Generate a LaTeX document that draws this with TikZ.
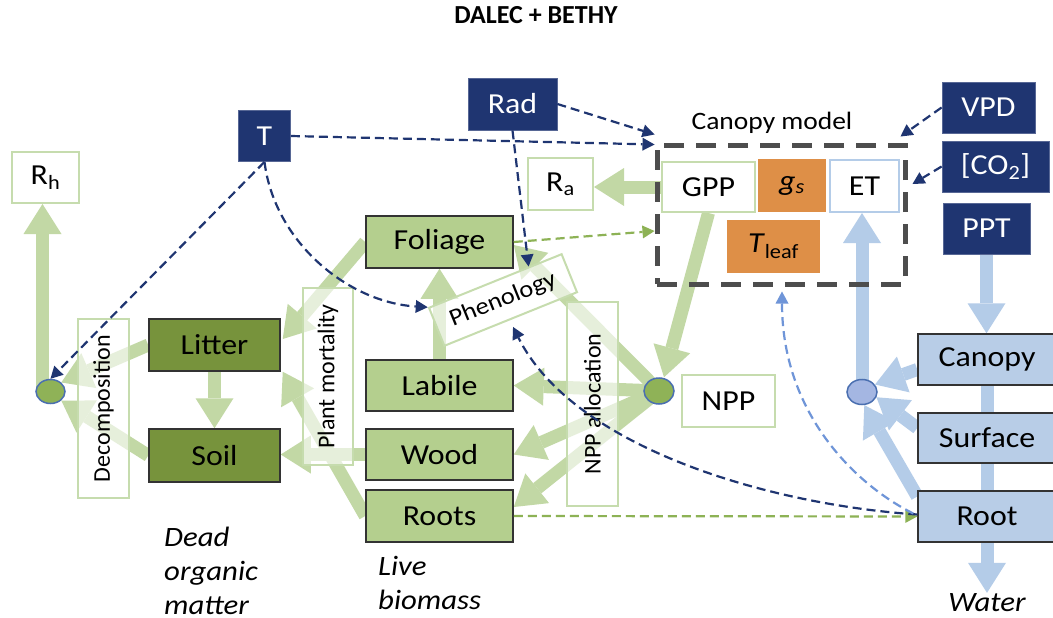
\documentclass[tikz,border=0pt]{standalone}
\usepackage{fontspec}
\setmainfont{Carlito}[FakeStretch=1.1]
\newfontfamily\plainfont{Carlito}
\usetikzlibrary{arrows.meta,calc,shapes.geometric}
\definecolor{dB}{HTML}{1F3571}
\definecolor{gLive}{HTML}{B4CF8E}
\definecolor{gDead}{HTML}{77933C}
\definecolor{gArr}{HTML}{C2D8A5}
\definecolor{gLine}{HTML}{C6DCAE}
\definecolor{bArr}{HTML}{B4CCE8}
\definecolor{bBox}{HTML}{B8CDE7}
\definecolor{orng}{HTML}{DE8F47}
\definecolor{cGreen}{HTML}{8FB257}
\definecolor{cBlue}{HTML}{A4B6E2}
\definecolor{cEdge}{HTML}{4A6FB0}
\definecolor{gDash}{HTML}{8DB255}
\definecolor{lbDash}{HTML}{6F95D8}
\definecolor{boxGray}{HTML}{4D4D4D}
\pgfdeclarelayer{bg}
\pgfsetlayers{bg,main}
\tikzset{
  lbl/.style={font=\fontsize{29}{32}\selectfont},
  box/.style={inner sep=0pt, lbl},
  inbox/.style={box, fill=dB, text=white, draw=dB!75!white, line width=0.8pt},
  livebox/.style={box, fill=gLive, draw=black!80, line width=1.5pt},
  deadbox/.style={box, fill=gDead, draw=black!80, line width=1.5pt},
  waterbox/.style={box, fill=bBox, draw=black!80, line width=1.5pt},
  outbox/.style={box, fill=white, draw=gLine, line width=2pt},
  orbox/.style={box, fill=orng},
  procbox/.style={inner sep=0pt, draw=gLine, line width=2pt, fill=white, fill opacity=0.6, text opacity=1, font=\plainfont\fontsize{24}{26}\selectfont},
  pool/.style={ellipse, draw=cEdge, line width=1.5pt, inner sep=0pt, minimum width=29pt, minimum height=24pt},
  garr/.style={draw=gArr, line width=13pt, -{Triangle[width=38pt,length=30pt,line width=0pt]}},
  barr/.style={garr, draw=bArr},
  dbd/.style={draw=dB, line width=2.2pt, dash pattern=on 9pt off 5pt, -{Triangle[width=13pt,length=12pt,line width=0pt]}},
  gd/.style={dbd, draw=gDash},
  lbd/.style={dbd, draw=lbDash},
  itlbl/.style={font=\itshape\fontsize{28}{34}\selectfont, inner sep=0pt}
}
\begin{document}
\begin{tikzpicture}[x=1pt, y=-1pt]
\useasboundingbox (0,0) rectangle (1053,618);
\begin{pgfonlayer}{bg}
\fill[white] (0,0) rectangle (1053,618);
\end{pgfonlayer}

% title and labels
\node[font=\plainfont\bfseries\fontsize{26}{28}\selectfont] (title) at (536,15) {DALEC + BETHY};
\node[font=\fontsize{25}{28}\selectfont] (cml) at (772,123) {Canopy model};

% canopy model box
\node[draw=boxGray, line width=5pt, dash pattern=on 20pt off 12pt, minimum width=248pt, minimum height=139pt] (cm) at (781,214.5) {};

% drivers
\node[inbox, minimum width=52pt, minimum height=51pt] (T) at (264.5,136) {T};
\node[inbox, minimum width=89pt, minimum height=52pt] (Rad) at (512.5,104) {Rad};
\node[inbox, minimum width=93pt, minimum height=51pt] (VPD) at (988.5,107.5) {VPD};
\node[inbox, minimum width=107pt, minimum height=51pt] (CO2) at (995.5,166.5) {[CO\textsubscript{2}]};
\node[inbox, minimum width=87pt, minimum height=51pt] (PPT) at (986.5,228.5) {PPT};

% fluxes
\node[outbox, minimum width=67pt, minimum height=51pt] (Rh) at (45.5,177.5) {R\textsubscript{h}};
\node[outbox, minimum width=65pt, minimum height=52pt] (Ra) at (560.5,184) {R\textsubscript{a}};
\node[outbox, minimum width=93pt, minimum height=50pt] (GPP) at (708.5,187) {GPP};
\node[orbox, minimum width=68pt, minimum height=53pt] (gs) at (792,185.5) {\textit{g}\textsubscript{\textit{s}}};
\node[outbox, draw=bArr, minimum width=69pt, minimum height=52pt] (ET) at (864.5,186) {ET};
\node[orbox, minimum width=93pt, minimum height=53pt] (Tleaf) at (773.5,246.5) {\textit{T}\textsubscript{leaf}};
\node[outbox, minimum width=93pt, minimum height=52pt] (NPP) at (728.5,401) {NPP};

% live pools
\node[livebox, minimum width=147pt, minimum height=52pt] (Foliage) at (439.5,242) {Foliage};
\node[livebox, minimum width=147pt, minimum height=51pt] (Labile) at (439.5,385.5) {Labile};
\node[livebox, minimum width=147pt, minimum height=51pt] (Wood) at (439.5,454.5) {Wood};
\node[livebox, minimum width=147pt, minimum height=52pt] (Roots) at (439.5,516) {Roots};

% dead pools
\node[deadbox, minimum width=131pt, minimum height=52pt] (Litter) at (214.5,345) {Litter};
\node[deadbox, minimum width=131pt, minimum height=53pt] (Soil) at (214.5,455.5) {Soil};

% water pools
\node[waterbox, minimum width=138pt, minimum height=51pt] (CanW) at (987,359.5) {Canopy};
\node[waterbox, minimum width=138pt, minimum height=50pt] (Surf) at (987,438) {Surface};
\node[waterbox, minimum width=138pt, minimum height=51pt] (RootW) at (987,516.5) {Root};

% process boxes
\node[procbox, rotate=90, minimum width=179pt, minimum height=51pt] (Decomp) at (103.5,408.5) {Decomposition};
\node[procbox, rotate=90, minimum width=177pt, minimum height=50pt] (Mort) at (328,376.5) {Plant mortality};
\node[procbox, rotate=90, minimum width=204pt, minimum height=51pt] (Alloc) at (592.5,404) {NPP allocation};
\node[procbox, font=\fontsize{24}{26}\selectfont, rotate=22, minimum width=143pt, minimum height=41pt] (Phen) at (503,300) {Phenology};

% junctions
\node[pool, fill=cGreen] (lc) at (50.5,391.5) {};
\node[pool, fill=cGreen, minimum width=30pt, minimum height=26pt] (npp) at (659,391) {};
\node[pool, fill=cBlue, minimum width=30pt, minimum height=25pt] (bc) at (862,392) {};

% italic labels
\node[itlbl, align=left, anchor=north west] (dom) at (164,527) {Dead\\organic\\matter};
\node[itlbl, align=left, anchor=north west] (lbm) at (378,556) {Live\\biomass};
\node[itlbl, anchor=base] (Wat) at (987,611) {Water};

% thick flux arrows (behind the boxes)
\begin{pgfonlayer}{bg}
\draw[garr] ($(lc.center)+(-8,0)$) -- ($(lc.center |- Rh.south)+(-8,0)$);
\draw[garr] (Litter.west) -- (lc.north east);
\draw[garr] (Soil.west) -- (lc.south east);
\draw[garr] (Litter.south) -- (Soil.north);
\draw[garr] (Foliage.west) -- ($(Litter.east)+(2,-6)$);
\draw[garr] (Roots.west) -- ($(Litter.south east)+(2,0)$);
\draw[garr] (Wood.west) -- (Soil.east |- Wood.west);
\draw[garr] (Labile.north) -- (Foliage.south);
\draw[garr] (npp.center) -- ($(Foliage.east)+(0,3)$);
\draw[garr] (npp.center) -- (Labile.east);
\draw[garr] (npp.center) -- (Wood.east);
\draw[garr] (npp.center) -- ($(Roots.east)+(0,-9)$);
\draw[garr] (GPP.south) -- ($(npp.north)+(5,0)$);
\draw[garr] (GPP.west) -- (Ra.east |- GPP.west);
\draw[barr] (PPT.south) -- (PPT.south |- CanW.north);
\draw[barr] ($(CanW.west)+(0,10)$) -- (bc.30);
\draw[barr] ($(Surf.west)+(0,-10)$) -- (bc.-20);
\draw[barr] ($(RootW.west)+(0,-20)$) -- (bc.-80);
\draw[barr] (bc.center) -- (bc.center |- ET.south);
\draw[barr] (CanW.south) -- (CanW.south |- Wat.north);
\end{pgfonlayer}

% dashed influence arrows
\draw[dbd] (T.east) -- ($(cm.north west)+(0,2)$);
\draw[dbd] (Rad.east) -- ($(cm.north west)+(0,-8)$);
\draw[dbd] (T.south) -- (lc.north);
\draw[dbd] (T.south) .. controls +(10,80) and +(-80,-5) .. (Phen.north west);
\draw[dbd] (Rad.south) -- ($(Phen.north)!0.5!(Phen.north east)$);
\draw[gd] (Foliage.east) -- ($(cm.west)+(0,16.5)$);
\draw[dbd] (VPD.west) -- ($(cm.north east)+(-7,-6)$);
\draw[dbd] (CO2.west) -- ($(cm.east |- ET.center)+(5,-2)$);
\draw[gd] (Roots.east) -- (RootW.west);
\draw[dbd] ($(RootW.west)+(0,-2)$) .. controls +(-150,-10) and +(60,120) .. ($(Phen.south)+(2,7)$);
\draw[lbd] ($(RootW.west)+(-4,-3)$) .. controls +(-60,-30) and +(0,120) .. ($(cm.south)+(1,5)$);
\end{tikzpicture}
\end{document}
